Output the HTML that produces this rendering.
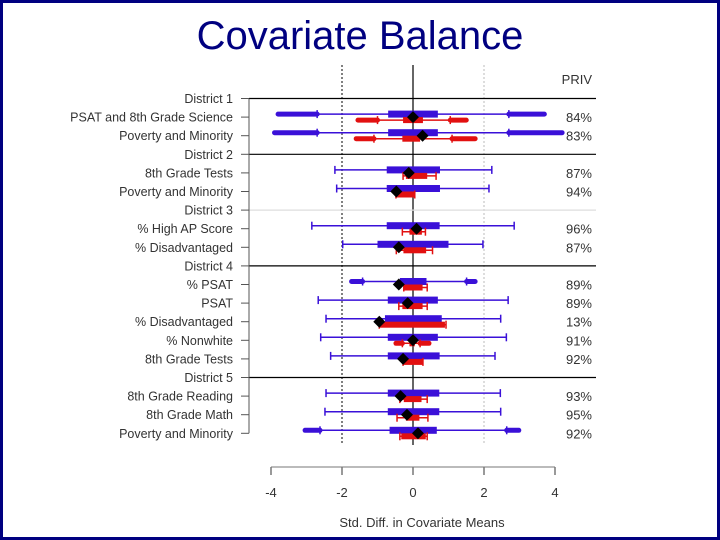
<!DOCTYPE html>
<html><head><meta charset="utf-8">
<style>
html,body{margin:0;padding:0;background:#fff;}
#frame{position:absolute;left:0;top:0;width:714px;height:534px;border:3px solid #000080;background:#fff;}
#title{position:absolute;left:0;width:720px;top:14px;text-align:center;font:40px "Liberation Sans",sans-serif;color:#000080;}
svg{position:absolute;left:0;top:0;}
text{font-family:"Liberation Sans",sans-serif;}
</style></head><body>
<div id="frame"></div>
<div id="title">Covariate Balance</div>
<svg id="chart" width="720" height="540"></svg>
<script>
const labels=["District 1","PSAT and 8th Grade Science","Poverty and Minority","District 2","8th Grade Tests","Poverty and Minority","District 3","% High AP Score","% Disadvantaged","District 4","% PSAT","PSAT","% Disadvantaged","% Nonwhite","8th Grade Tests","District 5","8th Grade Reading","8th Grade Math","Poverty and Minority"];
const privPct=[null,"84%","83%",null,"87%","94%",null,"96%","87%",null,"89%","89%","13%","91%","92%",null,"93%","95%","92%"];
// blue: [whiskerLo, q1, q3, whiskerHi, outlierLoMin, outlierHiMax]
const blueStats=[null,[-2.7,-0.7,0.7,2.7,-3.8,3.7],[-2.7,-0.7,0.7,2.7,-3.9,4.2],null,[-2.2,-0.74,0.76,2.22,null,null],[-2.15,-0.74,0.76,2.14,null,null],null,[-2.85,-0.74,0.75,2.85,null,null],[-1.98,-1.0,1.0,1.97,null,null],null,[-1.42,-0.37,0.38,1.51,-1.73,1.75],[-2.67,-0.71,0.7,2.68,null,null],[-2.45,-0.79,0.81,2.47,null,null],[-2.6,-0.71,0.7,2.63,null,null],[-2.32,-0.71,0.75,2.31,null,null],null,[-2.45,-0.71,0.74,2.46,null,null],[-2.48,-0.71,0.74,2.47,null,null],[-2.62,-0.66,0.67,2.64,-3.04,2.98]];
const redStats=[null,[-1.0,-0.28,0.28,1.05,-1.55,1.5],[-1.1,-0.3,0.2,1.1,-1.6,1.75],null,[-0.28,-0.2,0.4,0.65,null,null],[-0.48,-0.48,0.05,0.05,null,null],null,[-0.3,-0.1,0.25,0.35,null,null],[-0.47,-0.27,0.37,0.55,null,null],null,[-0.26,-0.26,0.27,0.4,null,null],[-0.4,-0.3,0.27,0.4,null,null],[-0.95,-0.95,0.9,0.93,null,null],[-0.3,-0.1,0.05,0.2,-0.48,0.45],[-0.28,-0.28,0.28,0.28,null,null],null,[-0.37,-0.26,0.24,0.4,null,null],[-0.45,-0.2,0.18,0.42,null,null],[-0.37,-0.33,0.36,0.4,null,null]];
const diamonds=[null,0.0,0.27,null,-0.12,-0.47,null,0.1,-0.4,null,-0.4,-0.15,-0.95,0.0,-0.28,null,-0.35,-0.17,0.14];
const xTicks=[-4,-2,0,2,4];

const NS="http://www.w3.org/2000/svg";
const svg=document.getElementById('chart');
function X(v){return 413+v*35.5;}
function Y(i){return 98.5+i*18.6;}
function el(tag,attrs,parent){const e=document.createElementNS(NS,tag);for(const k in attrs)e.setAttribute(k,attrs[k]);(parent||svg).appendChild(e);return e;}

let g=el('g',{});


el('line',{x1:X(-2),x2:X(-2),y1:65,y2:445,stroke:'#000','stroke-width':1,'stroke-dasharray':'2,2'},g);
el('line',{x1:X(2),x2:X(2),y1:65,y2:445,stroke:'#bbb','stroke-width':1,'stroke-dasharray':'2,2'},g);
el('line',{x1:X(0),x2:X(0),y1:65,y2:445,stroke:'#000','stroke-width':1.2},g);
labels.forEach((l,i)=>{if(l.startsWith('District')){el('line',{x1:249,x2:596,y1:Y(i),y2:Y(i),stroke:i==6?'#ddd':'#000','stroke-width':1.2},g);}});
let ya=el('g',{});


el('line',{x1:249,x2:249,y1:Y(0),y2:Y(18),stroke:'#555','stroke-width':1},ya);
labels.forEach((l,i)=>{
  el('line',{x1:241,x2:249,y1:Y(i),y2:Y(i),stroke:'#555','stroke-width':1},ya);
  const t=el('text',{x:233,y:Y(i)+4.5,'text-anchor':'end','font-size':12.5,fill:'#333'},ya);
  t.textContent=l;
  
  
});
const pv=el('text',{x:592,y:84,'text-anchor':'end','font-size':13,fill:'#333'});
pv.textContent='PRIV';


privPct.forEach((p,i)=>{if(!p)return;
  const t=el('text',{x:592,y:Y(i)+5,'text-anchor':'end','font-size':13,fill:'#333'});
  t.textContent=p;
  
  
});
function drawBox(s,yc,col,h,name){
  if(!s)return;
  const gg=el('g',{});
  
  
  el('line',{x1:X(s[0]),x2:X(s[3]),y1:yc,y2:yc,stroke:col,'stroke-width':1.5},gg);
  el('line',{x1:X(s[0]),x2:X(s[0]),y1:yc-4,y2:yc+4,stroke:col,'stroke-width':1.5},gg);
  el('line',{x1:X(s[3]),x2:X(s[3]),y1:yc-4,y2:yc+4,stroke:col,'stroke-width':1.5},gg);
  el('rect',{x:X(s[1]),y:yc-h/2,width:X(s[2])-X(s[1]),height:h,fill:col},gg);
  if(s[4]!=null){el('line',{x1:X(s[4]),x2:X(s[0]),y1:yc,y2:yc,stroke:col,'stroke-width':5,'stroke-linecap':'round'},gg);}
  if(s[5]!=null){el('line',{x1:X(s[3]),x2:X(s[5]),y1:yc,y2:yc,stroke:col,'stroke-width':5,'stroke-linecap':'round'},gg);}
}
labels.forEach((l,i)=>{
  drawBox(blueStats[i],Y(i)-3,'#3a10d8',7,'blue-box');
  drawBox(redStats[i],Y(i)+3,'#e21010',6,'red-box');
  if(diamonds[i]!=null){
    const x=X(diamonds[i]),y=Y(i);
    const d=el('polygon',{points:`${x},${y-6} ${x+6},${y} ${x},${y+6} ${x-6},${y}`,fill:'#000'});
    
    
  }
});
let xa=el('g',{});


el('line',{x1:X(-4),x2:X(4),y1:467,y2:467,stroke:'#777','stroke-width':1},xa);
xTicks.forEach(v=>{
  el('line',{x1:X(v),x2:X(v),y1:467,y2:475,stroke:'#777','stroke-width':1.5},xa);
  const t=el('text',{x:X(v),y:497,'text-anchor':'middle','font-size':13,fill:'#333'},xa);
  t.textContent=String(v);
  
  
});
const xl=el('text',{x:422,y:527,'text-anchor':'middle','font-size':13,fill:'#333'});
xl.textContent='Std. Diff. in Covariate Means';


</script>
</body></html>
